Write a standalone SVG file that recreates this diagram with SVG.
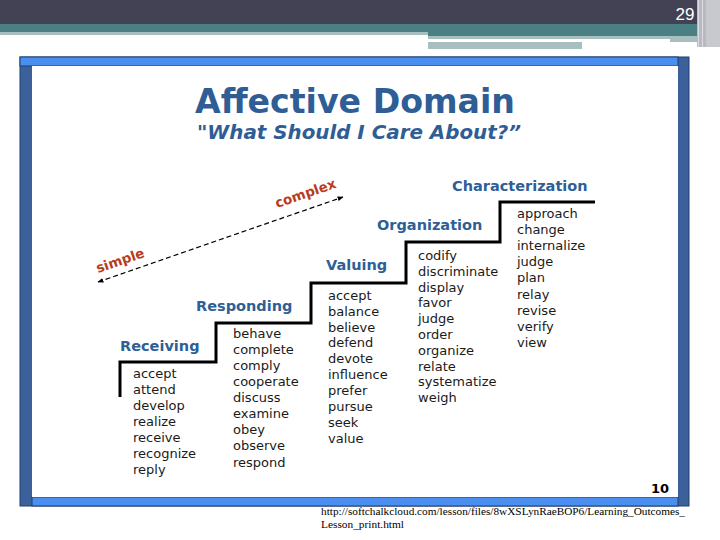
<svg xmlns="http://www.w3.org/2000/svg" width="720" height="540" viewBox="0 0 720 540">
<style>
.lvl{font-family:"DejaVu Sans",Verdana,sans-serif;font-weight:bold;font-size:14.5px;fill:#2e5f96}
.w{font-family:"DejaVu Sans",Verdana,sans-serif;font-size:13px;fill:#1a1a1a}
.red{font-family:"DejaVu Sans",Verdana,sans-serif;font-weight:bold;font-size:13.5px;fill:#b83c1e}
.url{font-family:"Liberation Serif","Times New Roman",serif;font-size:11.3px;fill:#000}
</style>
<defs>
<marker id="ah" viewBox="0 0 10 10" refX="9" refY="5" markerWidth="6" markerHeight="6" orient="auto-start-reverse" markerUnits="userSpaceOnUse">
<path d="M0,1 L10,5 L0,9 z" fill="#000"/>
</marker>
</defs>
<rect width="720" height="540" fill="#fff"/>
<g id="header">
<rect x="0" y="0" width="720" height="24" fill="#424254"/>
<rect x="0" y="24" width="700" height="8" fill="#4a8083"/>
<rect x="0" y="32" width="428" height="3" fill="#a8bfc0"/>
<rect x="428" y="32" width="272" height="4" fill="#4a8083"/>
<rect x="428" y="36" width="272" height="3" fill="#a8bfc0"/>
<rect x="428" y="39" width="242" height="3" fill="#fff"/>
<rect x="670" y="39" width="30" height="3" fill="#a8bfc0"/>
<rect x="428" y="42" width="154" height="7" fill="#a8bfc0"/>
<rect x="697" y="0" width="23" height="47" fill="#b9b9c2"/>
<rect x="698" y="0" width="1" height="47" fill="#dcdce2"/>
<rect x="702" y="0" width="1" height="47" fill="#dcdce2"/>
<rect x="706" y="0" width="14" height="47" fill="#c8c8cf"/>
<text x="685" y="20" text-anchor="middle" font-family="'Liberation Sans Narrow','Liberation Sans',sans-serif" font-size="17" fill="#fff">29</text>
</g>
<g id="frame">
<rect x="20" y="57" width="669" height="449" fill="#3b609a" stroke="#1f3f70" stroke-width="1"/>
<rect x="20" y="57" width="658" height="9" fill="#4a8ef0" stroke="#1f3f70" stroke-width="1"/>
<rect x="32" y="497" width="646" height="9" fill="#4a8ef0" stroke="#1f3f70" stroke-width="1"/>
<rect x="32" y="66" width="646" height="431" fill="#fff"/>
</g>
<g id="title">
<text x="195" y="113" textLength="320" lengthAdjust="spacingAndGlyphs" font-family="'DejaVu Sans',Verdana,sans-serif" font-weight="bold" font-size="33" fill="#2f5d95">Affective Domain</text>
<text x="197" y="139" textLength="324" lengthAdjust="spacingAndGlyphs" font-family="'DejaVu Sans',Verdana,sans-serif" font-weight="bold" font-style="italic" font-size="19" fill="#2f5d95">"What Should I Care About?”</text>
</g>
<g id="connectors">
<line x1="98" y1="282" x2="343" y2="197" stroke="#000" stroke-width="1.2" stroke-dasharray="5 3" marker-start="url(#ah)" marker-end="url(#ah)"/>
<polyline points="120,397 120,362 216,362 216,323 311,323 311,283 406,283 406,242 500,242 500,202 595,202" fill="none" stroke="#000" stroke-width="3"/>
</g>
<g id="simple"><text class="red" transform="translate(98,273) rotate(-19)">simple</text></g>
<g id="complex"><text class="red" transform="translate(277,208) rotate(-19)">complex</text></g>
<g id="receiving">
<text class="lvl" x="120" y="351">Receiving</text>
<text class="w" x="133" y="378">accept</text>
<text class="w" x="133" y="394">attend</text>
<text class="w" x="133" y="410">develop</text>
<text class="w" x="133" y="426">realize</text>
<text class="w" x="133" y="442">receive</text>
<text class="w" x="133" y="458">recognize</text>
<text class="w" x="133" y="474">reply</text>
</g>
<g id="responding">
<text class="lvl" x="196" y="311">Responding</text>
<text class="w" x="233" y="338">behave</text>
<text class="w" x="233" y="354">complete</text>
<text class="w" x="233" y="370">comply</text>
<text class="w" x="233" y="386">cooperate</text>
<text class="w" x="233" y="402">discuss</text>
<text class="w" x="233" y="418">examine</text>
<text class="w" x="233" y="434">obey</text>
<text class="w" x="233" y="450">observe</text>
<text class="w" x="233" y="467">respond</text>
</g>
<g id="valuing">
<text class="lvl" x="326" y="270">Valuing</text>
<text class="w" x="328" y="300">accept</text>
<text class="w" x="328" y="316">balance</text>
<text class="w" x="328" y="332">believe</text>
<text class="w" x="328" y="347">defend</text>
<text class="w" x="328" y="363">devote</text>
<text class="w" x="328" y="379">influence</text>
<text class="w" x="328" y="395">prefer</text>
<text class="w" x="328" y="411">pursue</text>
<text class="w" x="328" y="427">seek</text>
<text class="w" x="328" y="443">value</text>
</g>
<g id="organization">
<text class="lvl" x="377" y="230">Organization</text>
<text class="w" x="418" y="260">codify</text>
<text class="w" x="418" y="276">discriminate</text>
<text class="w" x="418" y="292">display</text>
<text class="w" x="418" y="307">favor</text>
<text class="w" x="418" y="323">judge</text>
<text class="w" x="418" y="339">order</text>
<text class="w" x="418" y="355">organize</text>
<text class="w" x="418" y="371">relate</text>
<text class="w" x="418" y="386">systematize</text>
<text class="w" x="418" y="402">weigh</text>
</g>
<g id="characterization">
<text class="lvl" x="452" y="191">Characterization</text>
<text class="w" x="517" y="218">approach</text>
<text class="w" x="517" y="234">change</text>
<text class="w" x="517" y="250">internalize</text>
<text class="w" x="517" y="266">judge</text>
<text class="w" x="517" y="282">plan</text>
<text class="w" x="517" y="299">relay</text>
<text class="w" x="517" y="315">revise</text>
<text class="w" x="517" y="331">verify</text>
<text class="w" x="517" y="347">view</text>
</g>
<g id="footer">
<text x="651" y="493" font-family="'DejaVu Sans',Verdana,sans-serif" font-weight="bold" font-size="13" fill="#000">10</text>
<text class="url" x="321" y="515" textLength="364" lengthAdjust="spacingAndGlyphs">http://softchalkcloud.com/lesson/files/8wXSLynRaeBOP6/Learning_Outcomes_</text>
<text class="url" x="321" y="528" textLength="83" lengthAdjust="spacingAndGlyphs">Lesson_print.html</text>
</g>
</svg>
